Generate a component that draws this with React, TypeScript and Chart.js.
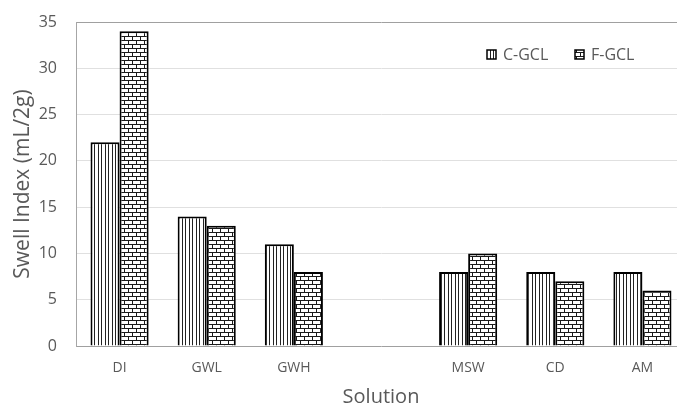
import React, { useEffect, useRef } from 'react';
import { Chart, registerables } from 'chart.js';

Chart.register(...registerables);

const categories = ['DI', 'GWL', 'GWH', '', 'MSW', 'CD', 'AM'];
const cGclValues = [22, 14, 11, null, 8, 8, 8];
const fGclValues = [34, 13, 8, null, 10, 7, 6];
const seriesLabels = ['C-GCL', 'F-GCL'];
const yMin = 0;
const yMax = 35;
const yStep = 5;
const yTitle = 'Swell Index (mL/2g)';
const xTitle = 'Solution';

const FONT = "'Open Sans', 'Noto Sans', sans-serif";
const TEXT = '#595959';

function verticalPattern(ctx: CanvasRenderingContext2D) {
  const c = document.createElement('canvas');
  c.width = 7;
  c.height = 4;
  const g = c.getContext('2d')!;
  g.fillStyle = '#ffffff';
  g.fillRect(0, 0, 7, 4);
  g.fillStyle = '#222222';
  g.fillRect(0, 0, 1, 4);
  g.fillRect(3, 0, 1, 4);
  return ctx.createPattern(c, 'repeat')!;
}

function brickPattern(ctx: CanvasRenderingContext2D) {
  const c = document.createElement('canvas');
  c.width = 8;
  c.height = 8;
  const g = c.getContext('2d')!;
  g.fillStyle = '#ffffff';
  g.fillRect(0, 0, 8, 8);
  g.fillStyle = '#1a1a1a';
  g.fillRect(0, 0, 8, 1);
  g.fillRect(0, 4, 8, 1);
  g.fillRect(0, 0, 1, 4);
  g.fillRect(4, 4, 1, 4);
  return ctx.createPattern(c, 'repeat')!;
}

const legendPlugin = {
  id: 'customLegend',
  afterDatasetsDraw(chart: any) {
    const ctx = chart.ctx as CanvasRenderingContext2D;
    const xs = [487, 575];
    ctx.save();
    chart.data.datasets.forEach((ds: any, i: number) => {
      const x = xs[i];
      const y = 50;
      ctx.fillStyle = ds.backgroundColor;
      ctx.fillRect(x, y, 9, 9);
      ctx.strokeStyle = '#000';
      ctx.lineWidth = 1.5;
      ctx.strokeRect(x, y, 9, 9);
      ctx.fillStyle = TEXT;
      ctx.font = `16px ${FONT}`;
      ctx.textBaseline = 'middle';
      ctx.textAlign = 'left';
      ctx.fillText(ds.label, x + 16, y + 5);
    });
    ctx.restore();
  },
};

export default function App() {
  const ref = useRef<HTMLCanvasElement | null>(null);

  useEffect(() => {
    document.body.style.margin = '0';
    const canvas = ref.current!;
    const ctx = canvas.getContext('2d')!;
    const chart = new Chart(ctx, {
      type: 'bar',
      data: {
        labels: categories,
        datasets: [
          {
            label: seriesLabels[0],
            data: cGclValues,
            backgroundColor: verticalPattern(ctx),
            borderColor: '#000000',
            borderWidth: 2,
            categoryPercentage: 0.667,
            barPercentage: 1.0,
          },
          {
            label: seriesLabels[1],
            data: fGclValues,
            backgroundColor: brickPattern(ctx),
            borderColor: '#000000',
            borderWidth: 2,
            categoryPercentage: 0.667,
            barPercentage: 1.0,
          },
        ],
      },
      options: {
        responsive: false,
        animation: false,
        layout: { padding: { top: 22, right: 0, left: 0, bottom: 0 } },
        plugins: {
          legend: { display: false },
          tooltip: { enabled: false },
        },
        scales: {
          x: {
            grid: { display: false },
            border: { display: false },
            ticks: {
              color: TEXT,
              font: { family: FONT, size: 14 },
              padding: 6,
              maxRotation: 0,
              autoSkip: false,
            },
            title: {
              display: true,
              text: xTitle,
              color: TEXT,
              font: { family: FONT, size: 20 },
              padding: { top: 0, bottom: 3 },
            },
            afterFit: (scale: any) => {
              scale.height = 66;
              scale.paddingLeft = 0;
              scale.paddingRight = 0;
            },
          },
          y: {
            min: yMin,
            max: yMax,
            ticks: {
              stepSize: yStep,
              color: TEXT,
              font: { family: FONT, size: 16 },
              padding: 19,
            },
            grid: {
              drawTicks: false,
              color: (c: any) =>
                c.tick && (c.tick.value === yMin || c.tick.value === yMax) ? '#a0a0a0' : '#e0e0e0',
              lineWidth: 1,
            },
            border: { display: true, color: '#a6a6a6', width: 1 },
            title: {
              display: true,
              text: yTitle,
              color: TEXT,
              font: { family: FONT, size: 21 },
              padding: { top: 10, bottom: 0 },
            },
            afterFit: (scale: any) => {
              scale.width = 76;
              scale.paddingTop = 0;
              scale.paddingBottom = 0;
            },
          },
        },
      },
      plugins: [legendPlugin],
    });
    return () => chart.destroy();
  }, []);

  return (
    <div style={{ width: 677, height: 403, overflow: 'hidden', position: 'relative', background: '#fff' }}>
      <canvas ref={ref} width={686} height={412} style={{ width: 686, height: 412, display: 'block' }} />
    </div>
  );
}
